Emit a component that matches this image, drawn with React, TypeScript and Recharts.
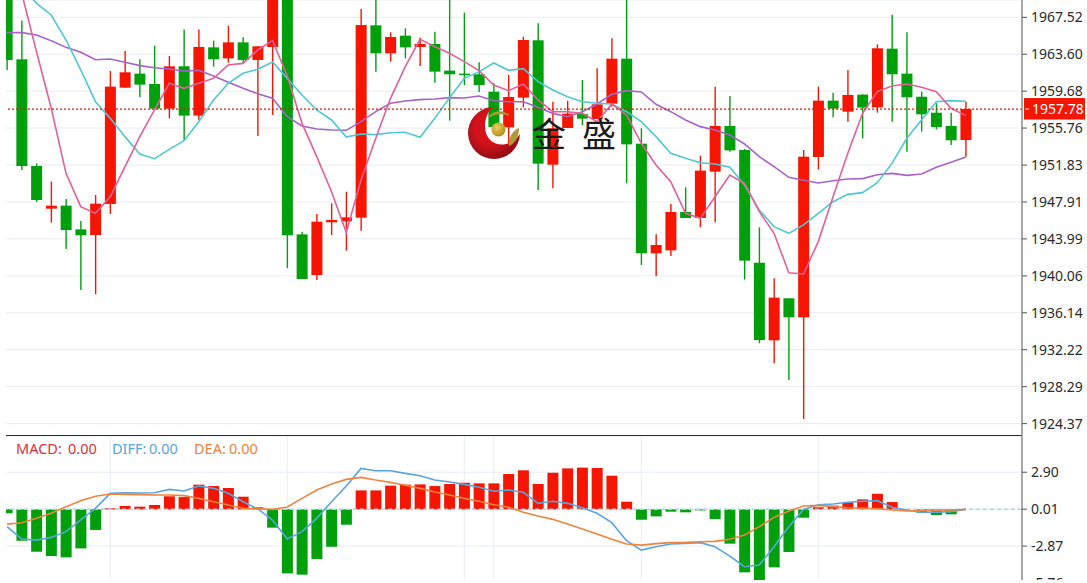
import {
  Bar,
  CartesianGrid,
  Cell,
  ComposedChart,
  Line,
  ReferenceLine,
  XAxis,
  YAxis,
} from "recharts";

const opens = [
  1970.42, 1963.06, 1951.73, 1947.2, 1947.52, 1945.0, 1944.4, 1947.7, 1960.05, 1961.54,
  1960.44, 1957.82, 1962.32, 1957.08, 1964.33, 1963.16, 1964.86, 1962.99, 1964.37, 1971.48,
  1944.47, 1940.15, 1945.75, 1945.85, 1946.24, 1966.67, 1963.7, 1965.57, 1964.37, 1964.69,
  1961.86, 1961.54, 1961.47, 1959.62, 1955.84, 1958.99, 1965.08, 1951.87, 1955.77, 1957.25,
  1956.72, 1958.35, 1963.13, 1954.1, 1942.46, 1942.77, 1946.85, 1946.21, 1951.13, 1955.98,
  1953.43, 1941.46, 1933.22, 1937.68, 1935.66, 1952.69, 1958.67, 1957.5, 1959.31, 1957.96,
  1964.19, 1961.54, 1959.09, 1957.39, 1955.98, 1954.49,
];
const closes = [
  1962.99, 1951.73, 1948.12, 1947.52, 1944.93, 1944.37, 1947.73, 1960.16, 1961.68, 1960.37,
  1957.82, 1962.32, 1957.08, 1964.37, 1963.06, 1964.86, 1962.99, 1964.44, 1971.48, 1944.37,
  1939.73, 1945.82, 1946.0, 1946.28, 1966.7, 1963.7, 1965.43, 1964.33, 1964.69, 1961.75,
  1961.47, 1961.39, 1960.33, 1955.87, 1959.06, 1965.11, 1951.98, 1955.73, 1957.29, 1956.76,
  1958.28, 1963.13, 1954.03, 1942.46, 1943.34, 1946.85, 1946.21, 1951.24, 1955.98, 1953.39,
  1941.68, 1933.25, 1937.75, 1935.66, 1952.72, 1958.67, 1957.82, 1959.27, 1957.93, 1964.23,
  1961.47, 1959.02, 1957.22, 1955.87, 1954.46, 1957.78,
];
const highs = [
  1971.48, 1967.17, 1952.01, 1950.07, 1948.23, 1945.89, 1948.65, 1961.82, 1963.94, 1963.06,
  1964.51, 1963.41, 1966.24, 1966.24, 1965.04, 1966.63, 1965.4, 1964.44, 1972.9, 1972.9,
  1944.76, 1946.63, 1947.77, 1949.0, 1968.4, 1970.78, 1965.93, 1966.35, 1965.36, 1966.0,
  1970.78, 1968.01, 1962.74, 1960.51, 1961.4, 1965.47, 1966.88, 1958.56, 1958.67, 1960.86,
  1962.1, 1965.29, 1970.78, 1955.73, 1944.47, 1947.7, 1949.47, 1952.83, 1960.16, 1959.16,
  1953.54, 1945.22, 1939.8, 1937.68, 1953.43, 1960.16, 1959.52, 1961.93, 1959.34, 1964.65,
  1967.8, 1965.93, 1959.62, 1958.39, 1957.39, 1958.56,
];
const lows = [
  1961.93, 1951.31, 1947.91, 1945.71, 1942.92, 1938.56, 1938.1, 1946.63, 1960.05, 1959.02,
  1957.82, 1956.79, 1954.39, 1956.58, 1962.28, 1962.7, 1962.63, 1954.92, 1957.15, 1940.86,
  1939.73, 1939.62, 1944.4, 1942.74, 1944.86, 1961.75, 1962.81, 1963.16, 1962.35, 1960.58,
  1956.55, 1960.33, 1959.59, 1955.73, 1954.14, 1957.96, 1949.18, 1949.36, 1955.77, 1956.08,
  1956.72, 1958.03, 1949.89, 1941.22, 1940.05, 1942.17, 1946.21, 1945.22, 1945.75, 1953.25,
  1939.69, 1932.9, 1930.77, 1929.0, 1924.86, 1951.38, 1956.9, 1956.44, 1954.67, 1957.39,
  1956.44, 1953.25, 1955.38, 1955.62, 1953.96, 1952.72,
];
const ma5 = [
  1976.09, 1970.07, 1963.87, 1957.86, 1950.95, 1947.41, 1946.7, 1948.47, 1951.66, 1954.85,
  1957.68, 1960.51, 1959.98, 1960.51, 1961.04, 1962.46, 1962.63, 1964.05, 1965.04, 1961.29,
  1956.26, 1952.72, 1949.0, 1944.69, 1950.24, 1954.67, 1958.92, 1962.28, 1965.18, 1964.4,
  1963.7, 1962.81, 1961.86, 1960.33, 1959.73, 1960.44, 1958.74, 1957.5, 1957.5, 1957.32,
  1956.44, 1958.32, 1957.15, 1954.14, 1951.84, 1950.07, 1946.7, 1946.17, 1948.47, 1950.77,
  1949.89, 1946.88, 1944.58, 1940.4, 1940.26, 1943.7, 1948.47, 1953.08, 1957.32, 1959.63,
  1960.23, 1960.44, 1960.09, 1959.63, 1957.86, 1957.08,
];
const ma10 = [
  1972.55, 1970.78, 1969.01, 1967.77, 1965.11, 1961.93, 1958.56, 1956.79, 1954.85, 1953.01,
  1952.51, 1953.5, 1954.42, 1956.44, 1958.74, 1960.51, 1961.57, 1962.0, 1962.78, 1961.04,
  1959.27, 1957.68, 1956.62, 1954.81, 1955.13, 1955.06, 1955.27, 1955.31, 1954.78, 1956.79,
  1958.99, 1961.04, 1961.75, 1962.67, 1961.89, 1962.07, 1960.69, 1959.8, 1959.09, 1958.56,
  1958.39, 1958.32, 1957.5, 1956.44, 1954.85, 1953.08, 1952.55, 1952.08, 1951.94, 1951.59,
  1949.71, 1947.06, 1945.29, 1944.58, 1945.47, 1946.7, 1947.94, 1948.72, 1948.9, 1949.96,
  1952.01, 1954.67, 1956.62, 1958.56, 1958.67, 1958.6,
];
const ma20 = [
  1965.89, 1965.89, 1965.64, 1965.04, 1964.33, 1963.8, 1963.02, 1963.09, 1962.74, 1962.39,
  1962.17, 1962.03, 1961.82, 1961.89, 1961.29, 1960.62, 1959.98, 1959.41, 1958.92, 1956.97,
  1955.98, 1955.66, 1955.55, 1955.52, 1956.44, 1957.5, 1958.39, 1958.63, 1958.78, 1958.85,
  1958.99, 1958.95, 1959.16, 1958.67, 1958.56, 1958.56, 1957.96, 1957.32, 1956.97, 1957.5,
  1958.32, 1959.34, 1959.73, 1959.59, 1958.28, 1957.5, 1956.62, 1955.91, 1955.55, 1955.02,
  1954.07, 1952.72, 1951.66, 1950.53, 1950.21, 1949.93, 1950.17, 1950.35, 1950.39, 1950.81,
  1950.95, 1950.74, 1950.88, 1951.59, 1952.12, 1952.69,
];
const macd = [
  -0.31, -2.45, -3.31, -3.65, -3.75, -3.05, -1.61, 0.08, 0.26, 0.21,
  0.34, 1.02, 0.96, 1.93, 1.82, 1.67, 0.99, 0.16, -1.43, -5.0,
  -5.1, -3.88, -2.92, -1.2, 1.48, 1.48, 1.85, 1.93, 1.95, 1.82,
  1.98, 2.08, 2.03, 2.03, 2.76, 3.05, 1.98, 2.86, 3.2, 3.26,
  3.23, 2.63, 0.6, -0.81, -0.55, -0.18, -0.23, -0.08, -0.76, -2.68,
  -4.92, -6.04, -4.53, -3.33, -0.65, 0.16, 0.29, 0.55, 0.78, 1.22,
  0.57, 0, -0.26, -0.44, -0.39, 0,
];
const diff = [
  -1.35, -2.32, -2.4, -2.19, -1.74, -0.83, 0.08, 1.25, 1.3, 1.28,
  1.3, 1.56, 1.43, 1.82, 1.64, 1.25, 0.6, 0.03, -0.83, -2.32,
  -1.74, -0.7, 0.6, 1.82, 3.2, 3.02, 3.02, 2.81, 2.63, 2.29,
  2.14, 1.95, 1.72, 1.41, 1.51, 1.33, 0.47, 0.63, 0.47, 0.13,
  -0.31, -1.04, -2.45, -3.18, -2.92, -2.71, -2.66, -2.6, -2.92, -3.65,
  -4.48, -4.35, -2.92, -1.35, 0, 0.36, 0.42, 0.55, 0.63, 0.68,
  0.16, -0.05, -0.23, -0.23, -0.18, 0,
];
const dea = [
  -1.15, -1.04, -0.7, -0.31, 0.21, 0.68, 1.02, 1.2, 1.17, 1.15,
  1.12, 1.12, 1.07, 0.86, 0.6, 0.34, 0.08, 0.05, 0, 0.18,
  0.86, 1.51, 1.98, 2.34, 2.5, 2.29, 2.11, 1.88, 1.64, 1.35,
  1.12, 0.86, 0.63, 0.36, 0.16, -0.23, -0.52, -0.78, -1.15, -1.54,
  -1.93, -2.34, -2.71, -2.79, -2.68, -2.6, -2.58, -2.53, -2.5, -2.34,
  -2.01, -1.35, -0.63, -0.13, 0.26, 0.31, 0.21, 0.13, 0.1, 0.05,
  -0.05, -0.13, -0.1, -0.08, -0.05, 0,
];

const priceTicks = [
  1967.52, 1963.6, 1959.68, 1955.76, 1951.83, 1947.91, 1943.99, 1940.06, 1936.14,
  1932.22, 1928.29, 1924.37,
];
const macdTicks = [2.9, 0.01, -2.87, -5.76];
const gridSlots = [7, 19, 31, 33, 43, 55];
const lastPrice = 1957.78;

const candles = opens.map((open, i) => ({
  i,
  open,
  close: closes[i],
  high: highs[i],
  low: lows[i],
  range: [lows[i], highs[i]],
  ma5: ma5[i],
  ma10: ma10[i],
  ma20: ma20[i],
}));
const macdRows = macd.map((value, i) => ({ i, macd: value, diff: diff[i], dea: dea[i] }));

const RED = "#f51500";
const GREEN = "#00a00c";
const GRID = "#e8ecf4";
const AXIS = "#8a8a8a";
const FONT = "'Noto Sans', sans-serif";
const X_DOMAIN: [number, number] = [-0.068, 68.81];

function Candle(props: any) {
  const { x, y, width, height, payload } = props;
  const { open, close, high, low } = payload;
  const toY = (v: number) => y + ((high - v) / (high - low)) * height;
  const color = close >= open ? RED : GREEN;
  const top = toY(Math.max(open, close));
  const bottom = toY(Math.min(open, close));
  const mid = x + width / 2;
  return (
    <g>
      <line x1={mid} x2={mid} y1={y} y2={y + height} stroke={color} strokeWidth={1.4} />
      <rect x={x} y={top} width={width} height={Math.max(bottom - top, 1)} fill={color} />
    </g>
  );
}

function PriceTag({ viewBox }: any) {
  const y = viewBox.y;
  return (
    <g>
      <rect x={1024} y={y - 11} width={61} height={21.5} fill={RED} />
      <line x1={1025} x2={1029} y1={y} y2={y} stroke="#fff" />
      <text x={1032} y={y + 5} fill="#fff" fontSize={14} fontFamily={FONT}>
        {lastPrice.toFixed(2)}
      </text>
    </g>
  );
}

function Overlay() {
  return (
    <svg
      width={1087}
      height={583}
      style={{ position: "absolute", left: 0, top: 0, pointerEvents: "none" }}
    >
      <defs>
        <radialGradient id="moon" cx="0.45" cy="0.4" r="0.7">
          <stop offset="0.45" stopColor="#d3121c" />
          <stop offset="1" stopColor="#7d0a10" />
        </radialGradient>
        <radialGradient id="ball" cx="0.4" cy="0.35" r="0.7">
          <stop offset="0" stopColor="#e8d060" />
          <stop offset="1" stopColor="#b08a18" />
        </radialGradient>
      </defs>
      <path
        d="M492 107 A26 26 0 1 0 520 134 C510 150 486 148 485 127 C485 118 488 112 492 107 Z"
        fill="url(#moon)"
      />
      <circle cx={498.5} cy={129.5} r={7} fill="url(#ball)" />
      <path d="M488 118 C492 110 504 109 510 116 C502 113 495 114 488 118 Z" fill="#a89a30" />
      <path d="M509 146 C508 138 513 130 519 128 C519 136 516 143 509 146 Z" fill="#b09a38" />
      <text x={532} y={147} fontSize={34} fill="#1a1a1a" fontFamily="'Noto Sans CJK SC'">
        金
      </text>
      <text x={582} y={147} fontSize={34} fill="#1a1a1a" fontFamily="'Noto Sans CJK SC'">
        盛
      </text>
      <g fontSize={14.5} fontFamily={FONT}>
        <text x={16} y={454} fill="#e0303a">MACD:</text>
        <text x={68} y={454} fill="#e0303a">0.00</text>
        <text x={112} y={454} fill="#5aa5e0">DIFF:</text>
        <text x={149} y={454} fill="#5aa5e0">0.00</text>
        <text x={194} y={454} fill="#f0843c">DEA:</text>
        <text x={229} y={454} fill="#f0843c">0.00</text>
      </g>
    </svg>
  );
}

export default function App() {
  return (
    <div
      style={{
        position: "absolute",
        left: 0,
        top: 0,
        width: 1087,
        height: 580,
        overflow: "hidden",
        background: "#fff",
      }}
    >
      <ComposedChart
        width={1087}
        height={436}
        data={candles}
        margin={{ top: 0, right: 0, bottom: 0, left: 6 }}
        style={{ position: "absolute", left: 0, top: 0 }}
      >
        <CartesianGrid stroke={GRID} verticalValues={gridSlots} syncWithTicks={false} />
        <XAxis
          dataKey="i"
          type="number"
          domain={X_DOMAIN}
          allowDataOverflow
          height={0.5}
          tick={false}
          tickLine={false}
          axisLine={{ stroke: "#2a2a2a" }}
        />
        <YAxis
          orientation="right"
          width={65}
          domain={[1923.11, 1969.36]}
          allowDataOverflow
          ticks={priceTicks}
          interval={0}
          tickSize={5}
          tickMargin={4}
          tick={{ fontSize: 14, fill: "#2a2a2a", fontFamily: FONT }}
          tickFormatter={(v) => Number(v).toFixed(2)}
          axisLine={{ stroke: AXIS, strokeWidth: 1.5 }}
          tickLine={{ stroke: "#555" }}
        />
        <Bar dataKey="range" barSize={11} shape={<Candle />} isAnimationActive={false} />
        <Line dataKey="ma20" stroke="#a862c8" strokeWidth={1.6} dot={false} isAnimationActive={false} />
        <Line dataKey="ma10" stroke="#4fc8d4" strokeWidth={1.6} dot={false} isAnimationActive={false} />
        <Line dataKey="ma5" stroke="#e4609a" strokeWidth={1.6} dot={false} isAnimationActive={false} />
        <ReferenceLine
          y={lastPrice}
          stroke={RED}
          strokeWidth={1.2}
          strokeDasharray="2 2"
          label={(p: any) => <PriceTag {...p} />}
        />
      </ComposedChart>

      <ComposedChart
        width={1087}
        height={148}
        data={macdRows}
        margin={{ top: 0, right: 0, bottom: 0, left: 6 }}
        style={{ position: "absolute", left: 0, top: 436 }}
      >
        <CartesianGrid stroke={GRID} verticalValues={gridSlots} syncWithTicks={false} />
        <XAxis dataKey="i" type="number" domain={X_DOMAIN} allowDataOverflow hide />
        <YAxis
          orientation="right"
          width={65}
          domain={[-5.83, 5.73]}
          allowDataOverflow
          ticks={macdTicks}
          interval={0}
          tickSize={5}
          tickMargin={4}
          tick={{ fontSize: 14, fill: "#2a2a2a", fontFamily: FONT }}
          tickFormatter={(v) => Number(v).toFixed(2)}
          axisLine={{ stroke: AXIS, strokeWidth: 1.5 }}
          tickLine={{ stroke: "#555" }}
        />
        <Bar dataKey="macd" barSize={11} isAnimationActive={false}>
          {macdRows.map((row) => (
            <Cell key={row.i} fill={row.macd >= 0 ? RED : GREEN} />
          ))}
        </Bar>
        <ReferenceLine y={0} stroke="#a8d8f0" strokeWidth={1.5} strokeDasharray="4 3" />
        <Line dataKey="diff" stroke="#5aa5e0" strokeWidth={1.6} dot={false} isAnimationActive={false} />
        <Line dataKey="dea" stroke="#f0843c" strokeWidth={1.6} dot={false} isAnimationActive={false} />
      </ComposedChart>

      <Overlay />
    </div>
  );
}
